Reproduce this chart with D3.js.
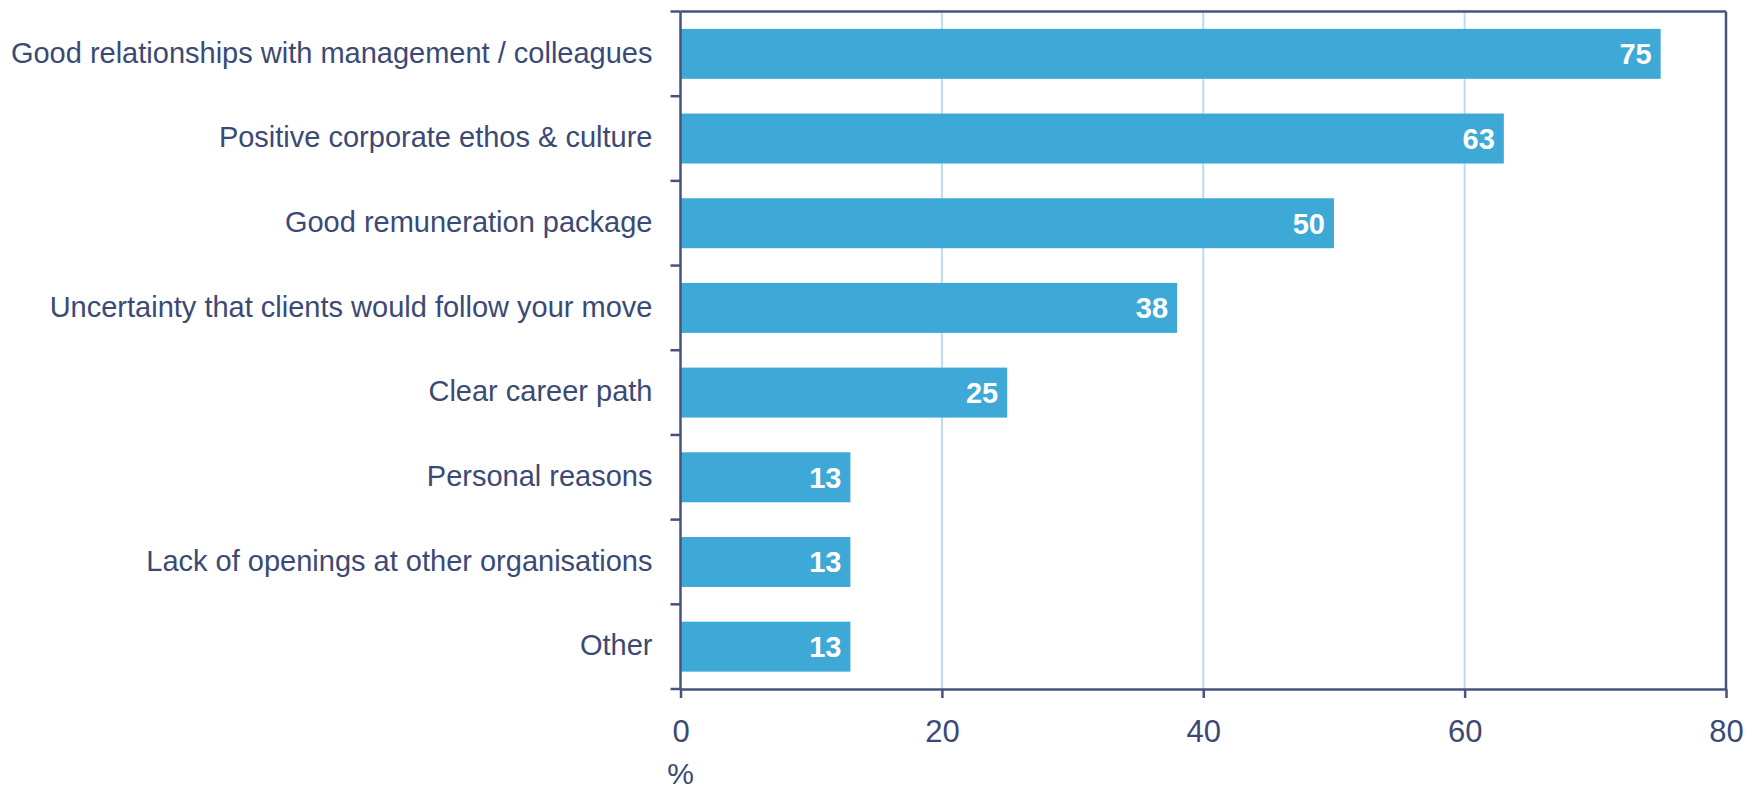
<!DOCTYPE html>
<html>
<head>
<meta charset="utf-8">
<script src="https://cdn.jsdelivr.net/npm/d3@7"></script>
<style>
  html, body { margin: 0; padding: 0; background: #ffffff; }
  svg { display: block; font-family: "Liberation Sans", Arial, sans-serif; }
</style>
</head>
<body>
<svg id="chart" width="1760" height="789"></svg>
<script>
// Reasons for staying with the current employer (% of respondents)
const categories = [
  "Good relationships with management / colleagues",
  "Positive corporate ethos & culture",
  "Good remuneration package",
  "Uncertainty that clients would follow your move",
  "Clear career path",
  "Personal reasons",
  "Lack of openings at other organisations",
  "Other"
];
const values = [75, 63, 50, 38, 25, 13, 13, 13];
const xTicks = [0, 20, 40, 60, 80];
const xDomain = [0, 80];
const unitLabel = "%";

const svg = d3.select("#chart");
const margin = { top: 11.5, right: 34, bottom: 100, left: 680.5 };
const width = 1760 - margin.left - margin.right;
const height = 789 - margin.top - margin.bottom;

const textColor = "#3b4a75";
const axisColor = "#46537d";
const barColor = "#3ea8d7";
const gridColor = "#b9def0";

const g = svg.append("g").attr("transform", `translate(${margin.left},${margin.top})`);

const x = d3.scaleLinear().domain(xDomain).range([0, width]);
const y = d3.scaleBand().domain(categories).range([0, height]).paddingInner(0.41).paddingOuter(0.205);

// vertical gridlines
g.selectAll("line.grid")
  .data(xTicks.filter(t => t > xDomain[0] && t < xDomain[1]))
  .join("line")
  .attr("class", "grid")
  .attr("x1", d => x(d)).attr("x2", d => x(d))
  .attr("y1", 0).attr("y2", height)
  .attr("stroke", gridColor).attr("stroke-width", 2);

// bars
g.selectAll("rect.bar")
  .data(values)
  .join("rect")
  .attr("class", "bar")
  .attr("x", x(0))
  .attr("y", (d, i) => y(categories[i]))
  .attr("width", d => x(d) - x(0))
  .attr("height", y.bandwidth())
  .attr("fill", barColor);

// value labels inside bar ends
g.selectAll("text.val")
  .data(values)
  .join("text")
  .attr("class", "val")
  .attr("x", d => x(d) - 9)
  .attr("y", (d, i) => y(categories[i]) + y.bandwidth() / 2)
  .attr("dy", "0.36em")
  .attr("text-anchor", "end")
  .attr("fill", "#ffffff")
  .attr("font-weight", "bold")
  .attr("font-size", 29)
  .text(d => d);

// frame: top and right edges
g.append("line").attr("x1", 0).attr("x2", width).attr("y1", 0).attr("y2", 0)
  .attr("stroke", axisColor).attr("stroke-width", 2.5);
g.append("line").attr("x1", width).attr("x2", width).attr("y1", 0).attr("y2", height)
  .attr("stroke", axisColor).attr("stroke-width", 2.5);

// y axis with ticks at band boundaries
const yAxis = g.append("g");
yAxis.append("line").attr("x1", 0).attr("x2", 0).attr("y1", 0).attr("y2", height)
  .attr("stroke", axisColor).attr("stroke-width", 2.5);
const boundaries = d3.range(categories.length + 1).map(i => i * height / categories.length);
yAxis.selectAll("line.tick")
  .data(boundaries)
  .join("line")
  .attr("class", "tick")
  .attr("x1", -10).attr("x2", 0)
  .attr("y1", d => d).attr("y2", d => d)
  .attr("stroke", axisColor).attr("stroke-width", 2.5);
yAxis.selectAll("text")
  .data(categories)
  .join("text")
  .attr("x", -28)
  .attr("y", d => y(d) + y.bandwidth() / 2)
  .attr("dy", "0.3em")
  .attr("text-anchor", "end")
  .attr("fill", textColor)
  .attr("font-size", 29)
  .text(d => d);

// x axis
const xAxis = g.append("g").attr("transform", `translate(0,${height})`)
  .call(d3.axisBottom(x).tickValues(xTicks).tickSize(9).tickSizeOuter(0).tickPadding(22));
xAxis.select(".domain").attr("stroke", axisColor).attr("stroke-width", 2.5);
xAxis.selectAll(".tick line").attr("stroke", axisColor).attr("stroke-width", 2.5);
xAxis.selectAll(".tick text")
  .attr("fill", textColor)
  .attr("font-size", 31)
  .attr("font-family", "\"Liberation Sans\", Arial, sans-serif");

// unit label under the axis origin
g.append("text")
  .attr("x", x(0))
  .attr("y", height + 95)
  .attr("text-anchor", "middle")
  .attr("fill", textColor)
  .attr("font-size", 30)
  .text(unitLabel);
</script>
</body>
</html>
